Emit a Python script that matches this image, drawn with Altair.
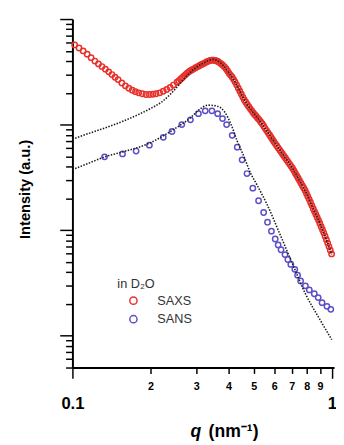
import altair as alt
import pandas as pd

# ---- data ----
saxs_q = [0.102, 0.106, 0.110, 0.114, 0.118, 0.122, 0.126, 0.130, 0.134, 0.138, 0.142, 0.146, 0.150,
          0.155, 0.160, 0.165, 0.170, 0.175, 0.180, 0.186, 0.192, 0.198, 0.204, 0.210, 0.217, 0.224,
          0.231, 0.238, 0.245, 0.253, 0.257, 0.261, 0.265, 0.269, 0.273, 0.277, 0.281, 0.285, 0.2895,
          0.294, 0.2985, 0.303, 0.3075, 0.312, 0.3165, 0.321, 0.3255, 0.330, 0.335,
          0.340, 0.345, 0.350, 0.355, 0.360, 0.365, 0.370, 0.375, 0.380, 0.3855, 0.391, 0.3965,
          0.402, 0.4075, 0.413, 0.4185, 0.424, 0.430, 0.436, 0.442, 0.448, 0.454, 0.460, 0.466, 0.472,
          0.4785, 0.485, 0.4915, 0.498, 0.5045, 0.511, 0.518, 0.525, 0.532, 0.539, 0.546, 0.553, 0.5605,
          0.568, 0.5755, 0.583, 0.5905, 0.598, 0.606, 0.614, 0.622, 0.630, 0.638, 0.646, 0.6545, 0.663,
          0.6715, 0.680, 0.6885, 0.697, 0.706, 0.715, 0.724, 0.733, 0.742, 0.751, 0.7605, 0.770, 0.7795,
          0.789, 0.7985, 0.808, 0.818, 0.828, 0.838, 0.848, 0.858, 0.868, 0.8785, 0.889, 0.8995, 0.910,
          0.9205, 0.931, 0.942, 0.953, 0.964, 0.975, 0.9865, 0.998]
saxs_i = [569, 532, 499, 465, 431, 400, 376, 355, 335, 316, 298, 281, 267,
          248, 233, 221, 212, 205, 200, 196, 193, 193, 194, 196, 200, 207,
          215, 225, 237, 252, 260, 269, 278, 288, 298, 308, 316, 324, 331,
          338, 346, 353, 360, 368, 374, 380, 387, 394, 400,
          405, 408, 409, 406, 401, 394, 385, 376, 365, 353, 339, 322,
          305, 293, 281, 267, 253, 237, 221, 207, 194, 182, 171, 163, 155,
          148, 141, 135, 129, 124, 120, 115, 111, 106, 102, 97.0, 92.3, 87.8,
          83.6, 79.7, 75.9, 72.4, 69.0, 65.8, 62.7, 60.0, 57.4, 54.9, 52.5, 50.2, 48.0,
          45.9, 43.9, 42.1, 40.3, 38.4, 36.5, 34.5, 32.7, 31.1, 29.5, 27.9, 26.4, 25.1,
          23.8, 22.3, 20.9, 19.6, 18.3, 17.1, 16.0, 15.0, 14.1, 13.2, 12.4, 11.6, 10.8,
          10.1, 9.44, 8.77, 8.13, 7.55, 7.0, 6.46, 5.96]

sans_q = [0.133, 0.156, 0.176, 0.198, 0.224, 0.242, 0.264, 0.285, 0.306, 0.325, 0.345, 0.363, 0.379,
          0.393, 0.413, 0.432, 0.451, 0.471, 0.496, 0.522, 0.546, 0.565, 0.585, 0.605, 0.621, 0.637,
          0.660, 0.677, 0.695, 0.720, 0.738, 0.758, 0.791, 0.819, 0.856, 0.886, 0.917, 0.958, 0.991]
sans_i = [49.5, 52.8, 56.2, 63.9, 75.8, 86.1, 100, 111, 127, 135, 135, 127, 114,
          100, 79.1, 61.2, 46.4, 34.4, 25.0, 19.0, 14.7, 11.9, 9.79, 8.25, 7.26, 6.53,
          5.87, 5.28, 4.74, 4.26, 3.75, 3.30, 2.97, 2.72, 2.50, 2.30, 2.06, 1.90, 1.78]

saxs_fit_q = [0.100, 0.110, 0.125, 0.140, 0.160, 0.180, 0.200, 0.220, 0.240, 0.260, 0.280, 0.300,
              0.320, 0.340, 0.350, 0.360, 0.380, 0.400, 0.420, 0.440, 0.460, 0.480, 0.500, 0.530,
              0.560, 0.600, 0.650, 0.700, 0.750, 0.800, 0.850, 0.900, 0.950, 1.000]
saxs_fit_i = [72.6, 79.1, 88.0, 97.0, 110, 125, 142, 163, 197, 245, 300, 348,
              382, 410, 414, 406, 366, 312, 262, 212, 172, 146, 128, 107,
              88, 68.5, 51.5, 39.7, 29.6, 22.1, 15.8, 11.6, 8.3, 5.9]

sans_fit_q = [0.100, 0.115, 0.133, 0.156, 0.198, 0.242, 0.285, 0.311, 0.333, 0.360, 0.386, 0.409,
              0.432, 0.459, 0.487, 0.513, 0.561, 0.633, 0.707, 0.791, 0.893, 1.000]
sans_fit_i = [37.5, 42.9, 49.5, 55.1, 66.7, 88.0, 116, 141, 153, 150, 132, 100,
              69.6, 49.5, 34.4, 27.2, 17.8, 8.99, 4.74, 2.50, 1.47, 0.918]

x_ticks = [0.1, 0.2, 0.3, 0.4, 0.5, 0.6, 0.7, 0.8, 0.9, 1.0]
y_ticks = [0.5, 0.6, 0.7, 0.8, 0.9, 1, 2, 3, 4, 5, 6, 7, 8, 9, 10, 20, 30, 40, 50, 60, 70, 80, 90,
           100, 200, 300, 400, 500, 600, 700, 800, 900, 1000]

series_names = ["SAXS", "SANS"]
series_colors = ["#e8302a", "#5b4fc9"]

# ---- tables ----
pts = pd.concat([
    pd.DataFrame({"q": saxs_q, "I": saxs_i, "series": "SAXS"}),
    pd.DataFrame({"q": sans_q, "I": sans_i, "series": "SANS"}),
])
fits = pd.concat([
    pd.DataFrame({"q": saxs_fit_q, "I": saxs_fit_i, "fit": "SAXS fit"}),
    pd.DataFrame({"q": sans_fit_q, "I": sans_fit_i, "fit": "SANS fit"}),
])

FONT = "Liberation Sans"
XMAJ = "datum.value < 0.15 || datum.value > 0.95"
YMAJ = "datum.value == 1 || datum.value == 10 || datum.value == 100 || datum.value == 1000"

x_scale = alt.Scale(type="log", domain=[0.1, 1.02], nice=False)
y_scale = alt.Scale(type="log", domain=[0.5, 1000], nice=False)

x_axis = alt.Axis(
    values=x_ticks,
    labelExpr="datum.value < 0.15 ? '0.1' : (datum.value > 0.95 ? '1' : '' + round(datum.value * 10))",
    labelFont=FONT, labelFontWeight="bold", labelColor="black",
    labelFontSize={"condition": {"test": XMAJ, "value": 17}, "value": 11},
    labelPadding={"condition": {"test": XMAJ, "value": 18}, "value": 7},
    labelOverlap=False, labelFlush=False,
    tickSize={"condition": {"test": XMAJ, "value": 11}, "value": 6},
    tickWidth=1.5, tickColor="black",
    domainColor="black", domainWidth=2, grid=False,
    title="(nm⁻¹)", titleFont=FONT, titleFontSize=18, titleFontWeight="bold", titleColor="black",
    titleX=139, titleY=71, titleAlign="left", titleBaseline="alphabetic",
)
y_axis = alt.Axis(
    values=y_ticks, labels=False,
    tickSize={"condition": {"test": YMAJ, "value": 13}, "value": 7},
    tickWidth=1.5, tickColor="black",
    domainColor="black", domainWidth=2, grid=False,
    title="Intensity (a.u.)", titleFont=FONT, titleFontSize=15, titleFontWeight="bold", titleColor="black",
    titleX=-44, titleY=174, titleAlign="center", titleBaseline="alphabetic", titleAngle=270,
)

points = alt.Chart(pts).mark_point(shape="circle", filled=False, size=30, strokeWidth=1.5, opacity=1).encode(
    x=alt.X("q:Q", scale=x_scale, axis=x_axis),
    y=alt.Y("I:Q", scale=y_scale, axis=y_axis),
    color=alt.Color("series:N", scale=alt.Scale(domain=series_names, range=series_colors),
                    legend=alt.Legend(
                        title="in D₂O", orient="none", legendX=46, legendY=265,
                        titleFont=FONT, titleFontSize=13, titleFontWeight="normal", titleColor="#333",
                        titlePadding=4, labelFont=FONT, labelFontSize=13, labelColor="#333",
                        symbolType="circle", symbolSize=55, symbolStrokeWidth=1.5,
                        symbolOffset=10, labelOffset=18, rowPadding=4, padding=0)),
    order=alt.Order("series:N", sort="descending"),
)

lines = alt.Chart(fits).mark_line(color="#1a1a1a", strokeDash=[1.5, 1.5], strokeWidth=1.6,
                                  interpolate="monotone").encode(
    x=alt.X("q:Q", scale=x_scale, axis=x_axis),
    y=alt.Y("I:Q", scale=y_scale, axis=y_axis),
    detail="fit:N",
)

q_label = alt.Chart(pd.DataFrame({"t": ["q"]})).mark_text(
    font=FONT, fontSize=18, fontWeight="bold", fontStyle="italic", align="left", baseline="alphabetic",
    color="black",
).encode(text="t:N", x=alt.value(121), y=alt.value(428))

chart = alt.layer(points, lines, q_label).properties(
    width=268, height=357,
    autosize=alt.AutoSizeParams(type="none"),
    padding={"left": 66, "top": 6, "right": 2, "bottom": 73},
).configure_view(stroke=None)

chart.save("out.html", embed_options={"renderer": "svg", "actions": False})
